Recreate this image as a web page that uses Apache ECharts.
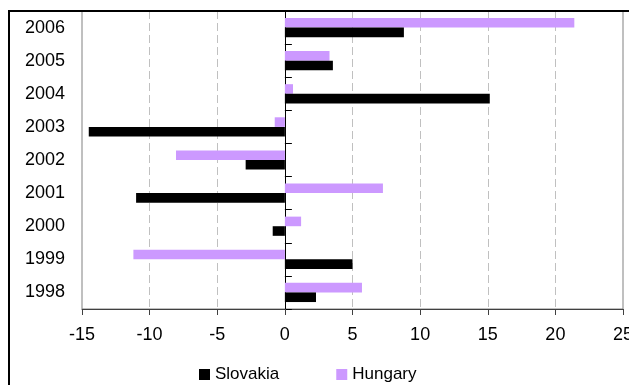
<!DOCTYPE html>
<html>
<head>
<meta charset="utf-8">
<script src="https://cdn.jsdelivr.net/npm/echarts@6/dist/echarts.min.js"></script>
<style>
html,body{margin:0;padding:0;background:#fff;}
#c{width:629px;height:385px;}
</style>
</head>
<body>
<div id="c"></div>
<script>
var categories = ['1998','1999','2000','2001','2002','2003','2004','2005','2006'];
var slovakia = [2.3, 5.0, -0.9, -11.0, -2.9, -14.5, 15.15, 3.55, 8.8];
var hungary = [5.7, -11.2, 1.2, 7.25, -8.05, -0.75, 0.6, 3.3, 21.4];
var xMin = -15, xMax = 25, xStep = 5;

var chart = echarts.init(document.getElementById('c'), null, {renderer:'canvas'});
var font = '"Liberation Sans", Arial, sans-serif';
chart.setOption({
  animation: false,
  backgroundColor: '#fff',
  textStyle: {fontFamily: font},
  grid: {left: 82, top: 11, width: 541, height: 298, show: true, borderColor: '#808080', borderWidth: 1, backgroundColor: 'transparent', containLabel: false, outerBoundsMode: 'none'},
  legend: {
    left: 199, top: 366, padding: 0, itemWidth: 11, itemHeight: 11, itemGap: 57,
    icon: 'rect',
    textStyle: {fontSize: 17, color: '#000', fontFamily: font, padding: [0,0,0,0]},
    data: ['Slovakia','Hungary']
  },
  xAxis: {
    type: 'value', min: xMin, max: xMax, interval: xStep,
    axisLine: {show: true, onZero: false, lineStyle: {color: '#404040', width: 1}},
    axisTick: {show: true, length: 6, lineStyle: {color: '#404040'}},
    axisLabel: {fontSize: 18, color: '#000', margin: 17, fontFamily: font},
    splitLine: {show: true, lineStyle: {color: '#c0c0c0', type: [8,4], width: 1}}
  },
  yAxis: [{
    type: 'category', data: categories,
    axisLine: {show: true, onZero: true, lineStyle: {color: '#000', width: 1}},
    axisTick: {show: true, inside: true, length: 7, lineStyle: {color: '#000'}},
    axisLabel: {show: false},
    splitLine: {show: false}
  },{
    type: 'category', data: categories, position: 'left',
    axisLine: {show: false}, axisTick: {show: false},
    axisLabel: {fontSize: 18, color: '#000', margin: 17, fontFamily: font},
    splitLine: {show: false}
  }],
  series: [{
    name: 'Hungary', type: 'bar', data: hungary, yAxisIndex: 0,
    itemStyle: {color: '#cc99ff'}, barGap: '0%', barCategoryGap: '42%'
  },{
    name: 'Slovakia', type: 'bar', data: slovakia, yAxisIndex: 0,
    itemStyle: {color: '#000000'}, barGap: '0%', barCategoryGap: '42%'
  }],
  graphic: [{
    type: 'rect', silent: true, z: 100,
    shape: {x: 9, y: 11, width: 700, height: 500},
    style: {fill: 'none', stroke: '#000', lineWidth: 2}
  }]
});
</script>
</body>
</html>
